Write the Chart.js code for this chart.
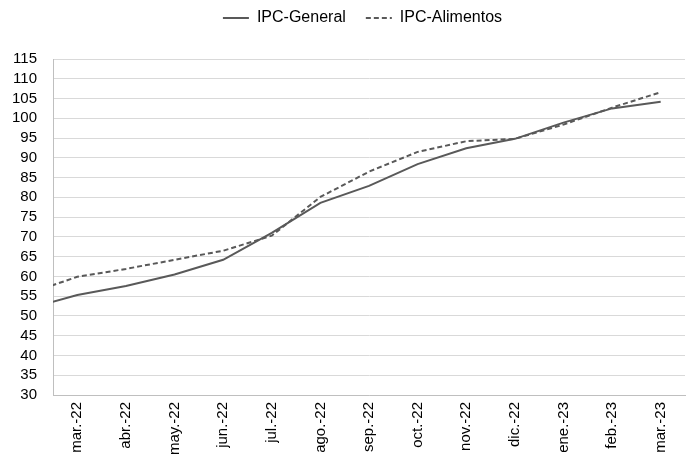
<!DOCTYPE html>
<html>
<head>
<meta charset="utf-8">
<script src="https://cdn.jsdelivr.net/npm/chart.js@4.4.0/dist/chart.umd.min.js"></script>
<style>
  html, body { margin: 0; padding: 0; background: #fff; }
  #wrap { width: 693px; height: 455px; }
</style>
</head>
<body>
<div id="wrap"><canvas id="chart"></canvas></div>
<script>
// feb.-22 sits just left of the plot, only the line running into it is visible
const months = ['feb.-22', 'mar.-22', 'abr.-22', 'may.-22', 'jun.-22', 'jul.-22', 'ago.-22',
    'sep.-22', 'oct.-22', 'nov.-22', 'dic.-22', 'ene.-23', 'feb.-23', 'mar.-23'];
const ipcGeneral = [51.9, 55.3, 57.6, 60.5, 64.2, 71.0, 78.6, 82.9, 88.4, 92.4, 94.8, 98.9, 102.5, 104.2];
const ipcAlimentos = [55.7, 59.9, 61.9, 64.2, 66.5, 70.3, 80.1, 86.5, 91.5, 94.2, 94.8, 98.4, 102.7, 106.6];
const yMin = 30, yMax = 115, yStep = 5;

const lineColor = '#595959';

// legend box takes the space above the plot, and is nudged right/up like the original
const legendPlacement = {
    id: 'legendPlacement',
    beforeInit(chart) {
        const legend = chart.legend;
        const fit = legend.fit;
        legend.fit = function() {
            fit.call(this);
            this.height = 59;
        };
    },
    afterLayout(chart) {
        chart.legend.left += 20;
        chart.legend.right += 20;
        chart.legend.top -= 10;
        chart.legend.bottom -= 10;
    }
};

new Chart(document.getElementById('chart'), {
    type: 'line',
    data: {
        labels: months,
        datasets: [{
            label: 'IPC-General',
            data: ipcGeneral,
            borderColor: lineColor,
            backgroundColor: lineColor,
            borderWidth: 2,
            pointRadius: 0,
            pointStyle: 'line',
            tension: 0
        }, {
            label: 'IPC-Alimentos',
            data: ipcAlimentos,
            borderColor: lineColor,
            backgroundColor: lineColor,
            borderWidth: 2,
            borderDash: [5, 3],
            pointRadius: 0,
            pointStyle: 'line',
            tension: 0
        }]
    },
    options: {
        responsive: true,
        maintainAspectRatio: false,
        animation: false,
        layout: { padding: { left: 0, right: 8, top: 0, bottom: 0 } },
        plugins: {
            legend: {
                position: 'top',
                labels: {
                    usePointStyle: true,
                    pointStyleWidth: 26,
                    padding: 20,
                    color: '#000',
                    font: { family: '"Liberation Sans", Arial, sans-serif', size: 16 },
                    generateLabels(chart) {
                        const items = Chart.defaults.plugins.legend.labels.generateLabels(chart);
                        items.forEach(item => {
                            const ds = chart.data.datasets[item.datasetIndex];
                            item.lineDash = ds.borderDash || [];
                            item.lineWidth = 2;
                            item.strokeStyle = lineColor;
                        });
                        return items;
                    }
                }
            },
            tooltip: { enabled: false }
        },
        scales: {
            x: {
                offset: true,
                min: 'mar.-22',
                grid: { display: false, drawTicks: false },
                border: { display: true, color: '#bfbfbf', width: 1 },
                ticks: {
                    autoSkip: false,
                    minRotation: 90,
                    maxRotation: 90,
                    padding: 7,
                    color: '#000',
                    font: { family: '"Liberation Sans", Arial, sans-serif', size: 15 }
                },
                afterFit(scale) { scale.height = 60; }
            },
            y: {
                min: yMin,
                max: yMax,
                grid: { color: '#d9d9d9', drawTicks: false },
                border: { display: true, color: '#bfbfbf', width: 1 },
                ticks: {
                    stepSize: yStep,
                    autoSkip: false,
                    padding: 16,
                    color: '#000',
                    font: { family: '"Liberation Sans", Arial, sans-serif', size: 15 }
                },
                afterFit(scale) { scale.width = 53; }
            }
        }
    },
    plugins: [legendPlacement]
});
</script>
</body>
</html>
